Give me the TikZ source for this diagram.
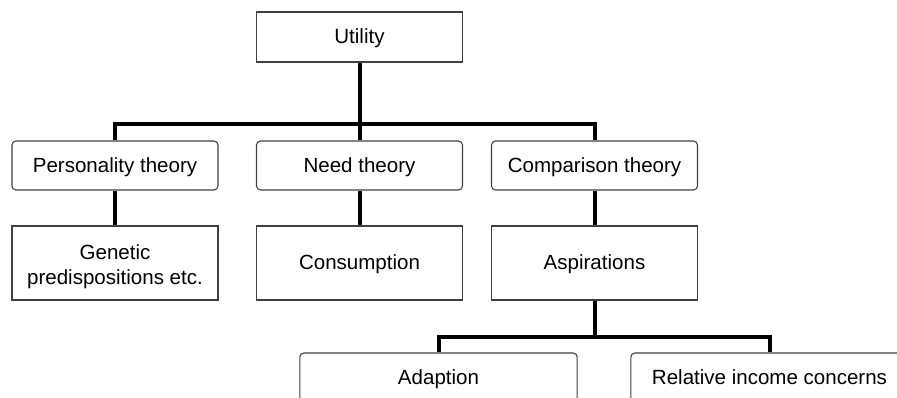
\documentclass[tikz,border=0pt]{standalone}
\usepackage{fontspec}
\setmainfont{Liberation Sans}
\usepackage{tikz}
\usetikzlibrary{positioning}
\tikzstyle{basebox} = [draw=black!75, line width=0.8pt, fill=white, inner sep=0pt, align=center, minimum width=154.5pt]
\tikzstyle{plainbox} = [basebox, text height=0.98em, text depth=0pt]
\tikzstyle{roundbox} = [plainbox, rounded corners=3pt, minimum height=36.75pt]
\tikzstyle{link} = [line width=3pt, black]

\begin{document}
\begin{tikzpicture}[x=0.75pt,y=-0.75pt]
		\useasboundingbox (0,0) rectangle (897,398);
		\clip (0,0) rectangle (897,398);
		\begin{scope}[font=\fontsize{15.4}{18.6}\selectfont]
			
			% Top:
			\node [plainbox, minimum height=37.5pt] (utility) at (359.5,37) {Utility};
			
			% Theories:
			% Rounded boxes in one row
			\node [roundbox] (personality) at (115,165.5) {Personality theory};
			\node [roundbox] (need) at (359.5,165.5) {Need theory};
			\node [roundbox] (comparison) at (594.5,165.5) {Comparison theory};
			
			% Sources:
			\node [basebox, minimum height=55.5pt] (genetic) at (115,263) {\rule{0pt}{1.05em}Genetic\\predispositions etc.};
			\node [plainbox, minimum height=55.5pt] (consumption) at (359.5,263) {Consumption};
			\node [plainbox, minimum height=55.5pt] (aspirations) at (594.5,263) {Aspirations};
			
			% Bottom row, cut at the lower edge:
			\node [roundbox, minimum width=208pt] (adaption) at (438.5,377.5) {Adaption};
			\node [roundbox, minimum width=208pt] (relative) at (769.5,377.5) {Relative income concerns};
			
			% Connectors:
			\coordinate (split1) at (359.5,124);
			\coordinate (split2) at (594.5,337);
			
			\draw [link] (utility) -- (need);
			\draw [link] (personality) |- (split1) -| (comparison);
			
			\foreach \a/\b in {personality/genetic, need/consumption, comparison/aspirations}
			{
				\draw [link] (\a) -- (\b);
			}
			
			\draw [link] (aspirations) -- (split2);
			\draw [link] (adaption) |- (split2) -| (relative);
			
		\end{scope}
		
\end{tikzpicture}
\end{document}
